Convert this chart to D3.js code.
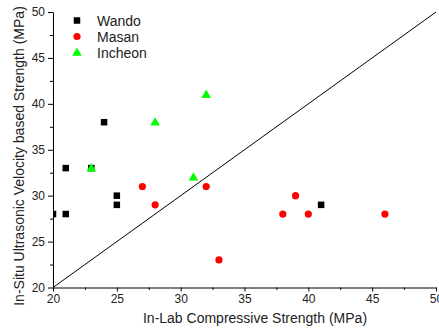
<!DOCTYPE html>
<html>
<head>
<meta charset="utf-8">
<script src="https://cdn.jsdelivr.net/npm/d3@7"></script>
<style>
  body { margin: 0; background: #fff; }
  svg { font-family: "Liberation Sans", Arial, sans-serif; }
</style>
</head>
<body>
<div id="chart"></div>
<script>
// data: [lab strength, in-situ strength]
const wando = [[20, 28], [21, 28], [21, 33], [23, 33], [24, 38], [25, 30], [25, 29], [41, 29]];
const masan = [[27, 31], [28, 29], [32, 31], [33, 23], [38, 28], [39, 30], [40, 28], [46, 28]];
const incheon = [[23, 33], [28, 38], [32, 41], [31, 32]];
const majorTicks = [20, 25, 30, 35, 40, 45, 50];
const minorTicks = [22.5, 27.5, 32.5, 37.5, 42.5, 47.5];
const seriesNames = ["Wando", "Masan", "Incheon"];

const W = 439, H = 329;
const plotLeft = 53, plotRight = 436, plotTop = 12, plotBottom = 287.5;

const x = d3.scaleLinear().domain([20, 50]).range([plotLeft, plotRight]);
const y = d3.scaleLinear().domain([20, 50]).range([plotBottom, plotTop]);

const svg = d3.select("#chart").append("svg")
  .attr("width", W).attr("height", H);

svg.append("defs").append("clipPath").attr("id", "plotClip")
  .append("rect")
  .attr("x", plotLeft).attr("y", plotTop - 6)
  .attr("width", plotRight - plotLeft + 6).attr("height", plotBottom - plotTop + 6);

// 1:1 line
svg.append("line")
  .attr("x1", x(20)).attr("y1", y(20))
  .attr("x2", x(50)).attr("y2", y(50))
  .attr("stroke", "#000").attr("stroke-width", 1);

// axes
svg.append("g").attr("transform", `translate(0,${plotBottom})`)
  .call(d3.axisBottom(x).tickValues(majorTicks).tickSize(4).tickSizeOuter(0).tickPadding(3));
svg.append("g").attr("transform", `translate(0,${plotBottom})`)
  .call(d3.axisBottom(x).tickValues(minorTicks).tickSize(2.5).tickFormat("").tickSizeOuter(0))
  .select(".domain").remove();

svg.append("g").attr("transform", `translate(${plotLeft},0)`)
  .call(d3.axisLeft(y).tickValues(majorTicks).tickSize(5).tickSizeOuter(0).tickPadding(3));
svg.append("g").attr("transform", `translate(${plotLeft},0)`)
  .call(d3.axisLeft(y).tickValues(minorTicks).tickSize(3).tickFormat("").tickSizeOuter(0))
  .select(".domain").remove();

svg.selectAll(".tick text").attr("font-size", 12).attr("fill", "#222")
  .attr("font-family", "Liberation Sans, Arial, sans-serif");
svg.selectAll(".domain, .tick line").attr("stroke", "#000");

// axis titles
svg.append("text")
  .attr("x", 255).attr("y", 323)
  .attr("text-anchor", "middle").attr("font-size", 14).attr("fill", "#222")
  .text("In-Lab Compressive Strength (MPa)");
svg.append("text")
  .attr("transform", `translate(23.5,156) rotate(-90)`)
  .attr("text-anchor", "middle").attr("font-size", 14).attr("fill", "#222")
  .text("In-Situ Ultrasonic Velocity based Strength (MPa)");

// markers
const marks = svg.append("g").attr("clip-path", "url(#plotClip)");
const sq = 6.5;
marks.selectAll("rect.wando").data(wando).join("rect")
  .attr("class", "wando")
  .attr("x", d => x(d[0]) - sq / 2).attr("y", d => y(d[1]) - sq / 2)
  .attr("width", sq).attr("height", sq).attr("fill", "#000");
marks.selectAll("circle.masan").data(masan).join("circle")
  .attr("class", "masan")
  .attr("cx", d => x(d[0])).attr("cy", d => y(d[1])).attr("r", 3.6)
  .attr("fill", "#ff0000");
const tri = d3.symbol().type(d3.symbolTriangle).size(40);
marks.selectAll("path.incheon").data(incheon).join("path")
  .attr("class", "incheon")
  .attr("transform", d => `translate(${x(d[0])},${y(d[1]) + 0.5})`)
  .attr("d", tri).attr("fill", "#00ff00");

// legend
const legend = svg.append("g").attr("transform", "translate(77,20.5)");
const rowH = 16;
seriesNames.forEach((name, i) => {
  const g = legend.append("g").attr("transform", `translate(0,${i * rowH})`);
  if (i === 0) {
    g.append("rect").attr("x", -sq / 2).attr("y", -sq / 2)
      .attr("width", sq).attr("height", sq).attr("fill", "#000");
  } else if (i === 1) {
    g.append("circle").attr("r", 3.6).attr("fill", "#ff0000");
  } else {
    g.append("path").attr("d", tri).attr("transform", "translate(0,0.5)").attr("fill", "#00ff00");
  }
  g.append("text").attr("x", 20).attr("y", 5)
    .attr("font-size", 14).attr("fill", "#222").text(name);
});
</script>
</body>
</html>
